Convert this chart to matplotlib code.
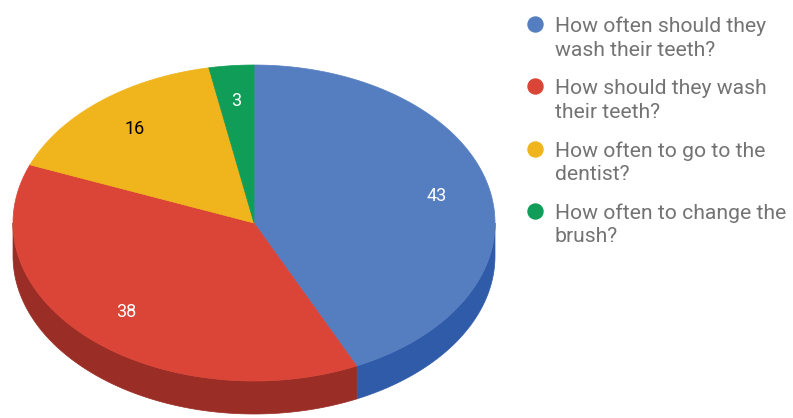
import numpy as np
import matplotlib
matplotlib.use("Agg")
import matplotlib.pyplot as plt
from matplotlib.patches import Polygon

categories = [
    "How often should they\nwash their teeth?",
    "How should they wash\ntheir teeth?",
    "How often to go to the\ndentist?",
    "How often to change the\nbrush?",
]
values = [43, 38, 16, 3]
top_colors = ["#557ec1", "#db4537", "#f0b41c", "#0f9d58"]
side_colors = ["#2f5ba9", "#9a2d25", "#a87d10", "#0a6e3d"]
label_colors = ["white", "white", "black", "white"]

W, H = 793, 418
fig = plt.figure(figsize=(W / 100, H / 100), dpi=100)
ax = fig.add_axes([0, 0, 1, 1])
ax.set_xlim(0, W)
ax.set_ylim(H, 0)
ax.axis("off")

cx, cy = 254, 223      # pie centre (pixels)
rx, ry = 241, 158      # ellipse radii
depth = 33             # thickness of the pie rim


def pt(theta, dy=0.0):
    return cx + rx * np.cos(theta), cy - ry * np.sin(theta) + dy


total = float(sum(values))
start = np.pi / 2
bounds = []
a = start
for v in values:
    b = a - 2 * np.pi * v / total
    bounds.append((a, b))
    a = b

# rim: only the front half (sin < 0) is visible
for (a0, a1), sc in zip(bounds, side_colors):
    for shift in (0, 2 * np.pi, -2 * np.pi):
        lo, hi = a1 + shift, a0 + shift
        lo_c, hi_c = max(lo, -np.pi), min(hi, 0.0)
        if hi_c > lo_c:
            t = np.linspace(lo_c, hi_c, 120)
            xs, ys = pt(t)
            xb, yb = pt(t[::-1], depth)
            poly = np.column_stack([np.r_[xs, xb], np.r_[ys, yb]])
            ax.add_patch(Polygon(poly, closed=True, facecolor=sc,
                                 edgecolor=sc, lw=0.5))

# top face
for (a0, a1), tc in zip(bounds, top_colors):
    t = np.linspace(a0, a1, 200)
    xs, ys = pt(t)
    poly = np.column_stack([np.r_[cx, xs], np.r_[cy, ys]])
    ax.add_patch(Polygon(poly, closed=True, facecolor=tc, edgecolor=tc, lw=0.5))

# slice value labels
for (a0, a1), v, lc in zip(bounds, values, label_colors):
    m = (a0 + a1) / 2
    x = cx + 0.775 * rx * np.cos(m)
    y = cy - 0.775 * ry * np.sin(m)
    ax.text(x, y, str(v), color=lc, fontsize=13, family="Roboto",
            ha="center", va="center")

# legend
lx, base0, step, lead = 535, 32, 62.3, 23.5
for i, (lab, tc) in enumerate(zip(categories, top_colors)):
    b = base0 + i * step
    ax.plot([lx], [b - 8], "o", ms=10.8, color=tc, mec=tc)
    for j, line in enumerate(lab.split("\n")):
        ax.text(lx + 20, b + j * lead, line, color="#737373", fontsize=15.2,
                family="Roboto", ha="left", va="baseline")

fig.savefig("out.png", dpi=100)
